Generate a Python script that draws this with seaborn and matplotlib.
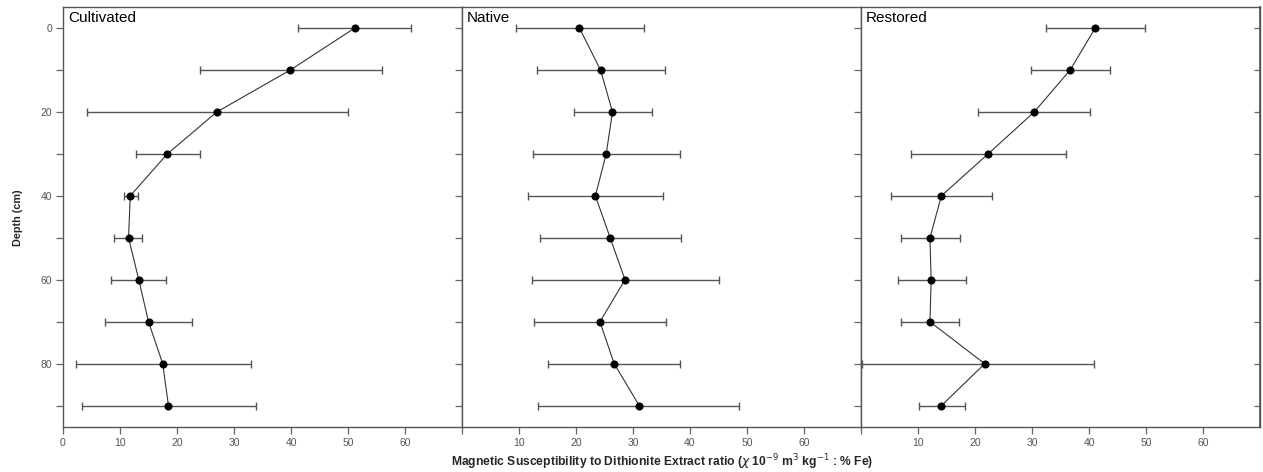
import numpy as np
import pandas as pd
import matplotlib
matplotlib.use("Agg")
import matplotlib.pyplot as plt
import seaborn as sns

depth = [0, 10, 20, 30, 40, 50, 60, 70, 80, 90]

panels = ["Cultivated", "Native", "Restored"]

cult_mean = [51.2, 39.9, 27.0, 18.3, 11.8, 11.5, 13.3, 15.0, 17.5, 18.5]
cult_lo = [41.3, 24.1, 4.2, 12.8, 10.7, 9.0, 8.4, 7.4, 2.2, 3.4]
cult_hi = [61.1, 56.0, 50.0, 24.0, 13.1, 13.9, 18.0, 22.6, 32.9, 33.9]

nat_mean = [20.6, 24.3, 26.4, 25.3, 23.4, 26.0, 28.6, 24.2, 26.7, 31.1]
nat_lo = [9.4, 13.2, 19.6, 12.4, 11.6, 13.7, 12.3, 12.7, 15.1, 13.4]
nat_hi = [31.9, 35.6, 33.4, 38.3, 35.3, 38.5, 45.0, 35.8, 38.2, 48.6]

rest_mean = [41.1, 36.7, 30.4, 22.3, 14.1, 12.1, 12.3, 12.1, 21.7, 14.1]
rest_lo = [32.4, 29.9, 20.6, 8.8, 5.2, 7.0, 6.5, 7.1, 0.2, 10.1]
rest_hi = [49.9, 43.6, 40.1, 36.0, 23.0, 17.3, 18.4, 17.2, 40.8, 18.2]

x_ticks = [0, 10, 20, 30, 40, 50, 60]
y_major = [0, 20, 40, 60, 80]
y_minor = [10, 30, 50, 70, 90]

series = [
    (cult_mean, cult_lo, cult_hi),
    (nat_mean, nat_lo, nat_hi),
    (rest_mean, rest_lo, rest_hi),
]

sns.set_theme(style="ticks")
plt.rcParams["font.family"] = ["Liberation Sans", "DejaVu Sans"]

fig = plt.figure(figsize=(12.63, 4.72), dpi=100)
left, right = 63 / 1263, 1260 / 1263
bottom, top = 1 - 426.7 / 472, 1 - 7 / 472
w = (right - left) / 3

spine_col = "#555555"
tick_col = "#666666"

for i, (name, (m, lo, hi)) in enumerate(zip(panels, series)):
    ax = fig.add_axes([left + i * w, bottom, w, top - bottom])
    df = pd.DataFrame({"depth": depth, "val": m, "lo": lo, "hi": hi})
    xerr = np.vstack([df["val"] - df["lo"], df["hi"] - df["val"]])
    ax.errorbar(df["val"], df["depth"], xerr=xerr, fmt="none",
                ecolor="#555555", elinewidth=1.0, capsize=3, capthick=1.0,
                zorder=2)
    sns.lineplot(data=df, x="val", y="depth", orient="y", sort=False,
                 color="#333333", linewidth=0.8, ax=ax, zorder=3)
    sns.scatterplot(data=df, x="val", y="depth", color="black", s=34,
                    edgecolor="black", linewidth=0, ax=ax, zorder=4)
    ax.set_xlim(0, 70)
    ax.set_ylim(95, -5)
    ax.set_xticks(x_ticks)
    if i == 0:
        ax.set_xticklabels([str(t) for t in x_ticks])
    else:
        ax.set_xticklabels([""] + [str(t) for t in x_ticks[1:]])
    ax.set_yticks(y_major)
    ax.set_yticks(y_minor, minor=True)
    if i == 0:
        ax.set_yticklabels([str(t) for t in y_major])
    else:
        ax.set_yticklabels([])
    ax.tick_params(axis="both", which="both", direction="out", length=5,
                   width=0.9, color=tick_col, labelcolor="#555555",
                   labelsize=7.5, pad=3)
    ax.set_xlabel("")
    ax.set_ylabel("")
    for s in ax.spines.values():
        s.set_color(spine_col)
        s.set_linewidth(1.0)
        s.set_visible(True)
    if i == 2:
        sec = ax.secondary_yaxis("right")
        sec.set_yticks(y_major + y_minor)
        sec.set_yticklabels([])
        sec.tick_params(axis="y", direction="in", length=4, width=0.9,
                        color=tick_col)
        sec.spines["right"].set_color(spine_col)
    ax.text(0.013, 0.99, name, transform=ax.transAxes, ha="left", va="top",
            fontsize=11, color="black")

fig.text(18 / 1263, 1 - 218 / 472, "Depth (cm)", rotation=90, ha="center",
         va="center", fontsize=7.8, fontweight="bold")
fig.text(662 / 1263, 1 - 462 / 472,
         r"Magnetic Susceptibility to Dithionite Extract ratio ($\chi$ 10$^{-9}$ m$^{3}$ kg$^{-1}$ : % Fe)",
         ha="center", va="center", fontsize=8.7, fontweight="bold")

fig.savefig("out.png", dpi=100)
